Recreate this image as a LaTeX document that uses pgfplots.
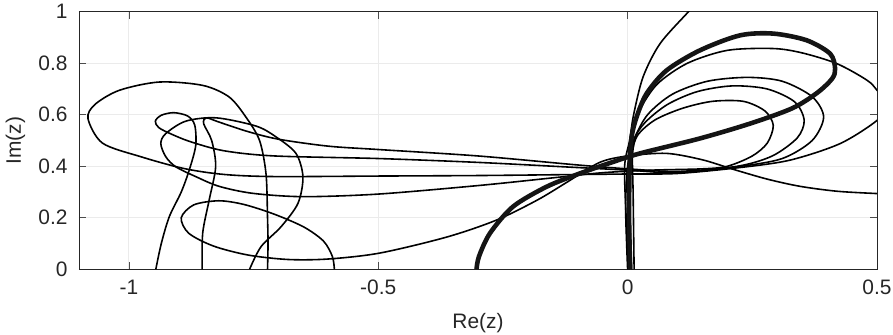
\documentclass[border=0pt]{standalone}
\usepackage{fontspec}
\setmainfont{Liberation Sans}
\usepackage{pgfplots}
\pgfplotsset{compat=1.18}
\begin{document}
\begin{tikzpicture}
\begin{axis}[
  name=ax,
  scale only axis, width=798bp, height=257.6bp,
  xmin=-1.1, xmax=0.5, ymin=0, ymax=1,
  xtick={-1,-0.5,0,0.5}, xticklabels={-1,-0.5,0,0.5},
  ytick={0,0.2,0.4,0.6,0.8,1}, yticklabels={0,0.2,0.4,0.6,0.8,1},
  grid=major, major grid style={gray!16, line width=0.9pt},
  tick style={gray!60!black, line width=0.7pt}, major tick length=7bp,
  tick align=inside,
  axis line style={black!85, line width=0.8pt},
  ticklabel style={font=\fontsize{21}{23}\selectfont, text=black!85},
  yticklabel style={xshift=-8bp},
  xticklabel style={yshift=-7bp},
  label style={font=\fontsize{21}{23}\selectfont, text=black!85},
  /pgf/number format/assume math mode=true,
  xlabel={Re(z)}, ylabel={Im(z)},
  xlabel style={at={(axis description cs:0.5,-0.229)}, anchor=base},
  ylabel style={at={(axis description cs:-0.0727,0.5)}, anchor=base},
  cycle list={{black}},
  every axis plot/.append style={black!92, line width=1.6pt, smooth, no marks},
]
% A
\addplot coordinates {(-0.946,0) (-0.935,0.1) (-0.919,0.204) (-0.895,0.3) (-0.879,0.385) (-0.866,0.48) (-0.868,0.56) (-0.882,0.595) (-0.91,0.608) (-0.935,0.598) (-0.947,0.575) (-0.94,0.55) (-0.915,0.525) (-0.876,0.495) (-0.809,0.46) (-0.708,0.44) (-0.5,0.43) (-0.3,0.415) (-0.1,0.395) (0.0,0.385) (0.1,0.375) (0.22,0.398) (0.31,0.43) (0.37,0.5) (0.393,0.591) (0.37,0.67) (0.31,0.73) (0.24,0.745) (0.16,0.73) (0.09,0.68) (0.04,0.6) (0.012,0.5) (0.0,0.4) (-0.004,0.25) (-0.002,0.1) (0.0,0)};
% B
\addplot coordinates {(-0.853,0) (-0.852,0.14) (-0.839,0.269) (-0.826,0.398) (-0.834,0.5) (-0.85,0.565) (-0.845,0.588) (-0.82,0.572) (-0.762,0.535) (-0.7,0.505) (-0.6,0.478) (-0.5,0.465) (-0.3,0.44) (-0.1,0.405) (0.0,0.39) (0.1,0.38) (0.22,0.40) (0.29,0.44) (0.34,0.51) (0.354,0.578) (0.335,0.65) (0.28,0.7) (0.21,0.712) (0.14,0.69) (0.08,0.64) (0.035,0.57) (0.012,0.5) (0.006,0.4) (0.005,0.2) (0.008,0)};
% C
\addplot coordinates {(-0.758,0) (-0.735,0.088) (-0.695,0.165) (-0.661,0.256) (-0.651,0.359) (-0.665,0.45) (-0.705,0.514) (-0.745,0.556) (-0.825,0.588) (-0.886,0.575) (-0.926,0.527) (-0.936,0.488) (-0.926,0.437) (-0.906,0.398) (-0.865,0.359) (-0.819,0.322) (-0.752,0.295) (-0.651,0.282) (-0.5,0.292) (-0.3,0.325) (-0.15,0.355) (-0.05,0.375) (0.05,0.385) (0.15,0.39) (0.2,0.40) (0.25,0.44) (0.28,0.49) (0.292,0.559) (0.275,0.615) (0.232,0.652) (0.17,0.652) (0.11,0.625) (0.055,0.58) (0.02,0.52) (0.01,0.45) (0.011,0.3) (0.012,0.15) (0.013,0)};
% D
\addplot coordinates {(-0.722,0) (-0.721,0.1) (-0.722,0.2) (-0.725,0.37) (-0.738,0.5) (-0.765,0.59) (-0.799,0.669) (-0.852,0.714) (-0.939,0.727) (-1.019,0.695) (-1.068,0.64) (-1.082,0.585) (-1.053,0.49) (-0.976,0.437) (-0.889,0.391) (-0.808,0.368) (-0.708,0.36) (-0.5,0.362) (-0.3,0.364) (-0.1,0.368) (0.0,0.37) (0.1,0.372) (0.225,0.395) (0.326,0.424) (0.426,0.488) (0.5,0.578) (0.52,0.64) (0.5,0.695) (0.48,0.734) (0.42,0.798) (0.35,0.84) (0.292,0.857) (0.2,0.85) (0.12,0.8) (0.06,0.72) (0.025,0.62) (0.01,0.52) (0.003,0.4) (0.0,0.2) (0.004,0)};
% E
\addplot coordinates {(-0.588,0) (-0.592,0.05) (-0.61,0.11) (-0.65,0.165) (-0.71,0.215) (-0.77,0.252) (-0.82,0.266) (-0.87,0.25) (-0.895,0.2) (-0.88,0.14) (-0.83,0.09) (-0.76,0.055) (-0.68,0.038) (-0.6,0.04) (-0.497,0.063) (-0.363,0.125) (-0.263,0.191) (-0.18,0.27) (-0.12,0.34) (-0.056,0.415) (0.0,0.44) (0.078,0.45) (0.15,0.425) (0.212,0.388) (0.28,0.35) (0.346,0.322) (0.42,0.303) (0.5,0.294) (0.55,0.29)};
% top-exit curve
\addplot coordinates {(0.15,1.06) (0.122,1.0) (0.065,0.876) (0.031,0.747) (0.012,0.6) (0.004,0.5) (-0.006,0.4) (-0.003,0.2) (0.002,0)};
% thick
\addplot[line width=4.6pt] coordinates {(-0.303,0) (-0.298,0.05) (-0.276,0.14) (-0.23,0.243) (-0.163,0.32) (-0.096,0.372) (-0.029,0.417) (0.025,0.45) (0.145,0.508) (0.246,0.566) (0.33,0.625) (0.38,0.685) (0.41,0.74) (0.416,0.779) (0.406,0.837) (0.359,0.889) (0.292,0.915) (0.225,0.908) (0.145,0.85) (0.078,0.772) (0.038,0.682) (0.018,0.591) (0.008,0.514) (0.004,0.4) (0.003,0.2) (0.005,0)};
\end{axis}
\pgfresetboundingbox
\path[use as bounding box] ([xshift=-79bp,yshift=-65bp]ax.south west) rectangle ([xshift=16bp,yshift=11.7bp]ax.north east);
\end{tikzpicture}
\end{document}
